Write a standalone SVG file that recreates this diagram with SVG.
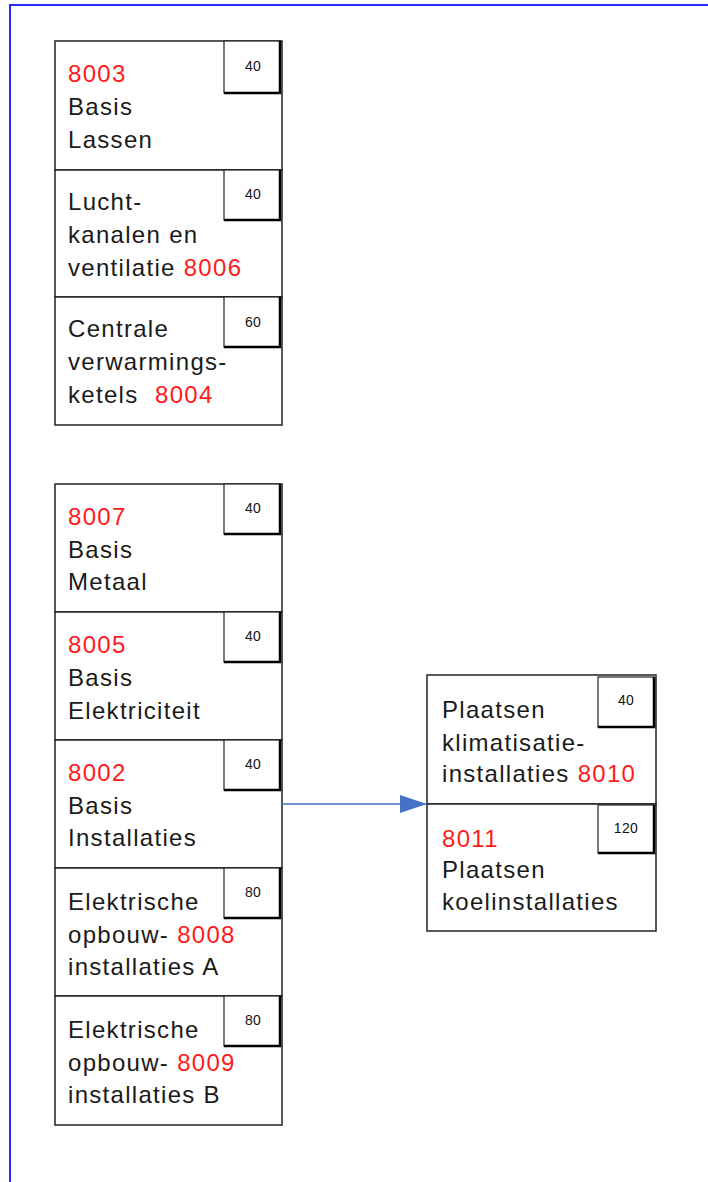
<svg xmlns="http://www.w3.org/2000/svg" width="708" height="1182" viewBox="0 0 708 1182">
<style>
.box{fill:#fff;stroke:#222;stroke-width:1.5}
.sb{fill:#fff;stroke:#222;stroke-width:1.2}
.sh{stroke:#000;stroke-width:2.5;fill:none}
.t{font-family:"Liberation Sans",Arial,sans-serif;font-size:24px;fill:#1a1a1a;letter-spacing:1.3px}
.r{fill:#ff1a1a}
.n{font-family:"Liberation Sans",Arial,sans-serif;font-size:14px;fill:#111;text-anchor:middle;letter-spacing:0.3px}
</style>
<defs>
<marker id="ah" markerWidth="27" markerHeight="18" refX="27" refY="9" orient="auto" markerUnits="userSpaceOnUse">
<path d="M0,0 L27,9 L0,18 Z" fill="#4472C4"/>
</marker>
</defs>
<rect width="708" height="1182" fill="#fff"/>
<path d="M10,1182 V5 H708" fill="none" stroke="#2a2aff" stroke-width="2"/>

<g id="n8003">
<rect class="box" x="55" y="41" width="227" height="129"/>
<rect class="sb" x="224" y="41" width="56" height="52"/>
<path class="sh" d="M280,41 V93 H224"/>
<text class="n" x="253" y="71">40</text>
<text class="t" x="68" y="82"><tspan class="r">8003</tspan><tspan x="68" y="115">Basis</tspan><tspan x="68" y="148">Lassen</tspan></text>
</g>
<g id="n8006">
<rect class="box" x="55" y="170" width="227" height="127"/>
<rect class="sb" x="224" y="170" width="56" height="50"/>
<path class="sh" d="M280,170 V220 H224"/>
<text class="n" x="253" y="199">40</text>
<text class="t" x="68" y="210">Lucht-<tspan x="68" y="243">kanalen en</tspan><tspan x="68" y="276">ventilatie <tspan class="r">8006</tspan></tspan></text>
</g>
<g id="n8004">
<rect class="box" x="55" y="297" width="227" height="128"/>
<rect class="sb" x="224" y="297" width="56" height="50"/>
<path class="sh" d="M280,297 V347 H224"/>
<text class="n" x="253" y="327">60</text>
<text class="t" x="68" y="337">Centrale<tspan x="68" y="370">verwarmings-</tspan><tspan x="68" y="403">ketels <tspan class="r" x="155">8004</tspan></tspan></text>
</g>

<g id="n8007">
<rect class="box" x="55" y="484" width="227" height="128"/>
<rect class="sb" x="224" y="484" width="56" height="50"/>
<path class="sh" d="M280,484 V534 H224"/>
<text class="n" x="253" y="513">40</text>
<text class="t" x="68" y="525"><tspan class="r">8007</tspan><tspan x="68" y="558">Basis</tspan><tspan x="68" y="590">Metaal</tspan></text>
</g>
<g id="n8005">
<rect class="box" x="55" y="612" width="227" height="128"/>
<rect class="sb" x="224" y="612" width="56" height="50"/>
<path class="sh" d="M280,612 V662 H224"/>
<text class="n" x="253" y="641">40</text>
<text class="t" x="68" y="653"><tspan class="r">8005</tspan><tspan x="68" y="686">Basis</tspan><tspan x="68" y="719">Elektriciteit</tspan></text>
</g>
<g id="n8002">
<rect class="box" x="55" y="740" width="227" height="128"/>
<rect class="sb" x="224" y="740" width="56" height="50"/>
<path class="sh" d="M280,740 V790 H224"/>
<text class="n" x="253" y="769">40</text>
<text class="t" x="68" y="781"><tspan class="r">8002</tspan><tspan x="68" y="814">Basis</tspan><tspan x="68" y="846">Installaties</tspan></text>
</g>
<g id="n8008">
<rect class="box" x="55" y="868" width="227" height="128"/>
<rect class="sb" x="224" y="868" width="56" height="50"/>
<path class="sh" d="M280,868 V918 H224"/>
<text class="n" x="253" y="897">80</text>
<text class="t" x="68" y="910">Elektrische<tspan x="68" y="943">opbouw- <tspan class="r">8008</tspan></tspan><tspan x="68" y="975">installaties A</tspan></text>
</g>
<g id="n8009">
<rect class="box" x="55" y="996" width="227" height="129"/>
<rect class="sb" x="224" y="996" width="56" height="50"/>
<path class="sh" d="M280,996 V1046 H224"/>
<text class="n" x="253" y="1025">80</text>
<text class="t" x="68" y="1038">Elektrische<tspan x="68" y="1071">opbouw- <tspan class="r">8009</tspan></tspan><tspan x="68" y="1103">installaties B</tspan></text>
</g>

<g id="n8010">
<rect class="box" x="427" y="675" width="229" height="129"/>
<rect class="sb" x="598" y="677" width="56" height="50"/>
<path class="sh" d="M654,677 V727 H598"/>
<text class="n" x="626" y="705">40</text>
<text class="t" x="442" y="718">Plaatsen<tspan x="442" y="751">klimatisatie-</tspan><tspan x="442" y="782">installaties <tspan class="r">8010</tspan></tspan></text>
</g>
<g id="n8011">
<rect class="box" x="427" y="804" width="229" height="127"/>
<rect class="sb" x="598" y="805" width="56" height="48"/>
<path class="sh" d="M654,805 V853 H598"/>
<text class="n" x="626" y="833">120</text>
<text class="t" x="442" y="847"><tspan class="r">8011</tspan><tspan x="442" y="878">Plaatsen</tspan><tspan x="442" y="910">koelinstallaties</tspan></text>
</g>

<g id="connectors">
<line x1="282" y1="804" x2="427" y2="804" stroke="#4472C4" stroke-width="1.5" marker-end="url(#ah)"/>
</g>
</svg>
